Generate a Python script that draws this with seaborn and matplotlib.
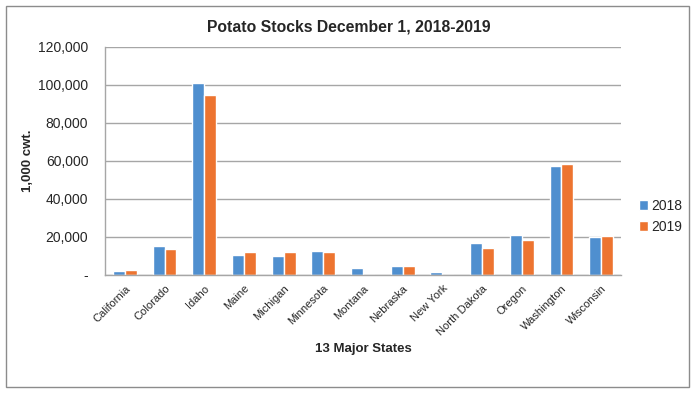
import pandas as pd
import seaborn as sns
import matplotlib.pyplot as plt
from matplotlib.patches import Rectangle
from matplotlib.ticker import FuncFormatter

states = ['California', 'Colorado', 'Idaho', 'Maine', 'Michigan', 'Minnesota', 'Montana',
          'Nebraska', 'New York', 'North Dakota', 'Oregon', 'Washington', 'Wisconsin']
stocks_2018 = [2100, 15400, 101000, 10600, 10200, 12600, 3500, 4900, 1800, 16900, 21000, 57500, 20100]
stocks_2019 = [2700, 13600, 95000, 12200, 11900, 12200, 0, 4900, 0, 14000, 18200, 58400, 20600]
years = ['2018', '2019']

df = pd.DataFrame({
    'state': states * 2,
    'stocks': stocks_2018 + stocks_2019,
    'year': [years[0]] * len(states) + [years[1]] * len(states),
})

sns.set_style('white')
plt.rcParams['font.family'] = ['Liberation Sans', 'DejaVu Sans']

fig, ax = plt.subplots(figsize=(6.99, 3.96), dpi=100)
fig.subplots_adjust(left=105/699, right=621/699, top=1-47/396, bottom=1-275/396)

sns.barplot(data=df, x='state', y='stocks', hue='year', palette=['#4f8fcf', '#ed7430'],
            width=0.6, saturation=1, ax=ax, legend=True)

ax.set_xlim(-0.5, 12.5)
ax.set_ylim(0, 120000)
ax.set_yticks(range(0, 120001, 20000))
ax.yaxis.set_major_formatter(FuncFormatter(lambda v, p: '-' if v == 0 else f'{int(v):,}'))
ax.grid(axis='y', color='#a6a6a6', linewidth=1)
ax.set_axisbelow(True)

for s in ['top', 'right']:
    ax.spines[s].set_visible(False)
for s in ['left', 'bottom']:
    ax.spines[s].set_color('#a6a6a6')
    ax.spines[s].set_linewidth(1)

# category ticks at the boundaries, Excel style
ax.set_xticks(range(len(states)))
ax.set_xticklabels(states, rotation=45, ha='right', rotation_mode='anchor', fontsize=8)
ax.set_xticks([i + 0.5 for i in range(-1, len(states))], minor=True)
ax.tick_params(axis='x', which='major', length=0, pad=6)
ax.tick_params(axis='x', which='minor', length=4, color='#a6a6a6', width=1)
ax.tick_params(axis='y', labelsize=10, length=0, pad=12)

ax.set_xlabel('13 Major States', fontsize=9.5, fontweight='bold', labelpad=4)
ax.set_ylabel('1,000 cwt.', fontsize=9.5, fontweight='bold', labelpad=3)
fig.suptitle('Potato Stocks December 1, 2018-2019', x=349/699, y=1-27/396, va='center',
             fontsize=11.3, fontweight='bold')

ax.legend(loc='upper left', bbox_to_anchor=(626/699, 1-186/396), bbox_transform=fig.transFigure,
          frameon=False, title=None, fontsize=10, handlelength=0.7, handleheight=0.7,
          handletextpad=0.2, labelspacing=0.55)

fig.patches.append(Rectangle((6/699, 1-387/396), (689-6)/699, (387-6)/396, transform=fig.transFigure,
                             fill=False, edgecolor='#8c8c8c', linewidth=1))

fig.savefig('out.png', dpi=100)
